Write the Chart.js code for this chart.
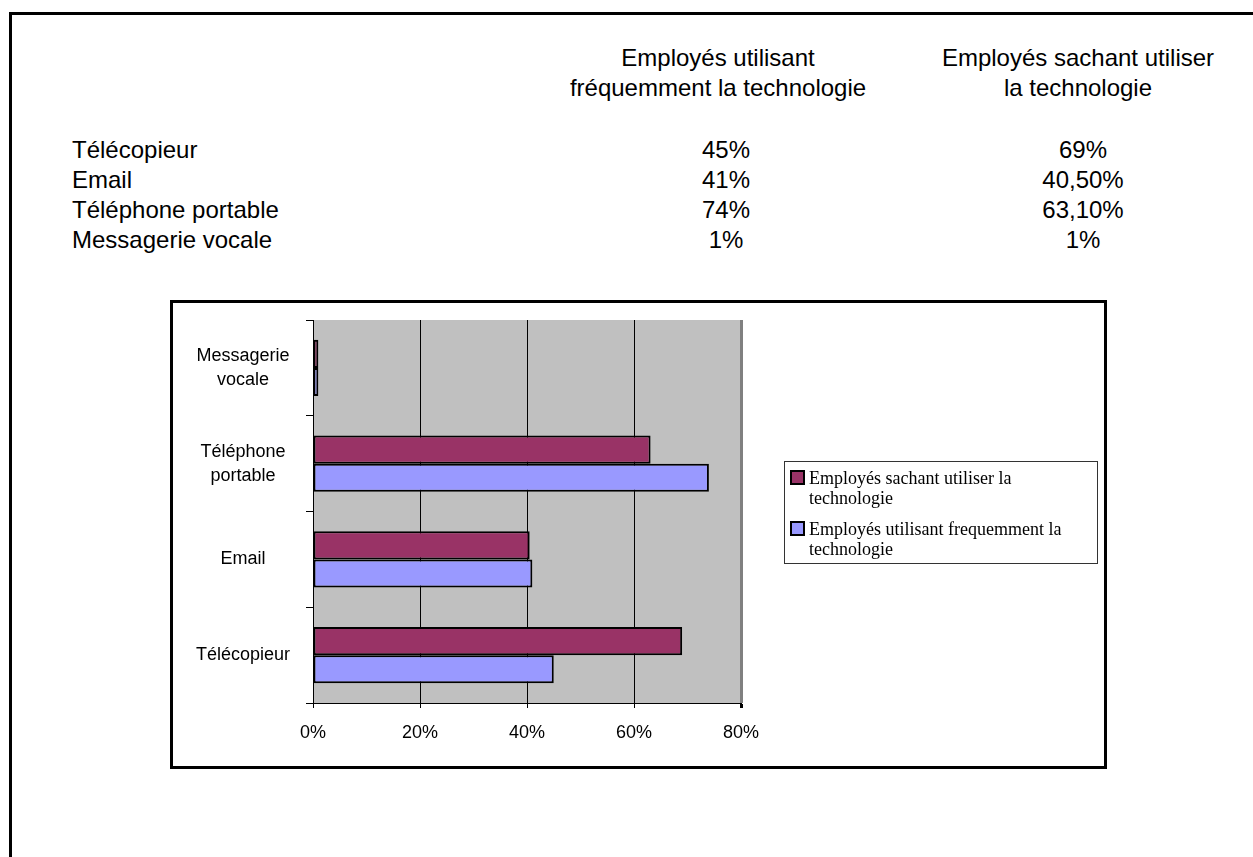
<!DOCTYPE html>
<html><head><meta charset="utf-8">
<script src="https://cdn.jsdelivr.net/npm/chart.js@4.4.1/dist/chart.umd.min.js"></script>
<style>
html,body{margin:0;padding:0;background:#fff;}
body{width:1253px;height:857px;overflow:hidden;position:relative;font-family:"Liberation Sans",Arial,sans-serif;color:#000;}
#page{position:absolute;left:9px;top:12px;width:1400px;height:1000px;border-left:3px solid #000;border-top:3px solid #000;}
.t{position:absolute;font-size:24px;line-height:30px;white-space:nowrap;}
.h{position:absolute;font-size:24px;line-height:30px;white-space:nowrap;text-align:center;width:420px;}
.v{text-align:center;width:200px;}
#frame{position:absolute;left:170px;top:300px;width:931px;height:463px;border:3px solid #000;}
#c{position:absolute;left:0;top:0;}
#legend{position:absolute;left:611px;top:158px;width:312px;height:101px;border:1px solid #333;font-family:"Liberation Serif","Times New Roman",serif;font-size:18px;line-height:20px;}
.li{position:absolute;left:0;width:310px;height:40px;}
.mk{position:absolute;left:5px;top:2px;width:11px;height:11px;border:2px solid #000;}
.lt{position:absolute;left:24px;top:0;white-space:nowrap;}
</style>
</head><body>
<div id="page"></div>
<div id="table"></div>
<div id="frame"><canvas id="c" width="931" height="463"></canvas><div id="legend"></div></div>
<script>
// ---- data ----
const categories = ['Télécopieur', 'Email', 'Téléphone portable', 'Messagerie vocale'];
const headerLines = [['Employés utilisant', 'fréquemment la technologie'], ['Employés sachant utiliser', 'la technologie']];
const frequentUse = [45, 41, 74, 1];
const knowHow = [69, 40.5, 63.1, 1];
const frequentText = ['45%', '41%', '74%', '1%'];
const knowHowText = ['69%', '40,50%', '63,10%', '1%'];
const legendNames = ['Employés sachant utiliser la technologie', 'Employés utilisant frequemment la technologie'];
const xTicks = [0, 20, 40, 60, 80];

// ---- table above ----
const table = document.getElementById('table');
function add(cls, txt, left, top) {
  const d = document.createElement('div');
  d.className = cls; d.style.left = left + 'px'; d.style.top = top + 'px';
  if (Array.isArray(txt)) d.innerHTML = txt.join('<br>'); else d.textContent = txt;
  table.appendChild(d); return d;
}
const headCenters = [718, 1078];
const valueCenters = [726, 1083];
headerLines.forEach((lines, i) => add('h', lines, headCenters[i] - 210, 43));
categories.forEach((c, i) => {
  const top = 135 + i * 30;
  add('t', c, 72, top);
  add('t v', frequentText[i], valueCenters[0] - 100, top);
  add('t v', knowHowText[i], valueCenters[1] - 100, top);
});

// ---- chart ----
const order = categories.map((_, i) => categories.length - 1 - i); // top-to-bottom order
const labels = order.map(i => categories[i].split(' '));
const colors = { know: '#993366', freq: '#9999FF' };

const plotBg = {
  id: 'plotBg',
  beforeDraw(chart) {
    const { ctx, chartArea: a } = chart;
    ctx.save(); ctx.fillStyle = '#C0C0C0';
    ctx.fillRect(a.left, a.top, a.right - a.left, a.bottom - a.top);
    ctx.restore();
  }
};

const chart = new Chart(document.getElementById('c'), {
  type: 'bar',
  data: {
    labels: labels,
    datasets: [
      { label: legendNames[0], data: order.map(i => knowHow[i]), backgroundColor: colors.know, borderColor: '#000', borderWidth: 2, borderSkipped: false },
      { label: legendNames[1], data: order.map(i => frequentUse[i]), backgroundColor: colors.freq, borderColor: '#000', borderWidth: 2, borderSkipped: false }
    ]
  },
  options: {
    indexAxis: 'y',
    responsive: false,
    animation: false,
    events: [],
    categoryPercentage: 0.585,
    barPercentage: 1,
    layout: { padding: { top: 17, right: 363, left: 0, bottom: 0 } },
    plugins: { legend: { display: false }, tooltip: { enabled: false } },
    scales: {
      x: {
        type: 'linear', min: xTicks[0], max: xTicks[xTicks.length - 1],
        afterBuildTicks(s) { s.ticks = xTicks.map(v => ({ value: v })); },
        ticks: { callback: v => v + '%', color: '#000', padding: 14, font: { family: 'Liberation Sans', size: 18 } },
        grid: {
          color: c => (c.tick && c.tick.value === 80) ? '#808080' : '#000',
          lineWidth: c => (c.tick && c.tick.value === 80) ? 3 : 1,
          tickColor: '#000', tickLength: 5
        },
        border: { color: '#000', width: 1 },
        afterFit(s) { s.height = 63; s.paddingLeft = 0; s.paddingRight = 0; }
      },
      y: {
        type: 'category', offset: true,
        grid: { offset: true, drawOnChartArea: false, tickLength: 7, color: '#000' },
        border: { color: '#000', width: 1 },
        ticks: { crossAlign: 'center', padding: 16, color: '#000', font: { family: 'Liberation Sans', size: 18, lineHeight: 1.33 } },
        afterFit(s) { s.width = 140; s.paddingTop = 0; s.paddingBottom = 0; }
      }
    }
  },
  plugins: [plotBg]
});

// ---- legend (from datasets) ----
const lg = document.getElementById('legend');
chart.data.datasets.forEach((ds, i) => {
  const it = document.createElement('div');
  it.className = 'li'; it.style.top = (6 + i * 51) + 'px';
  const mk = document.createElement('div'); mk.className = 'mk'; mk.style.background = ds.backgroundColor;
  const tx = document.createElement('div'); tx.className = 'lt';
  const words = ds.label.split(' ');
  tx.innerHTML = words.slice(0, -1).join(' ') + '<br>' + words[words.length - 1];
  it.appendChild(mk); it.appendChild(tx); lg.appendChild(it);
});
</script>
</body></html>
